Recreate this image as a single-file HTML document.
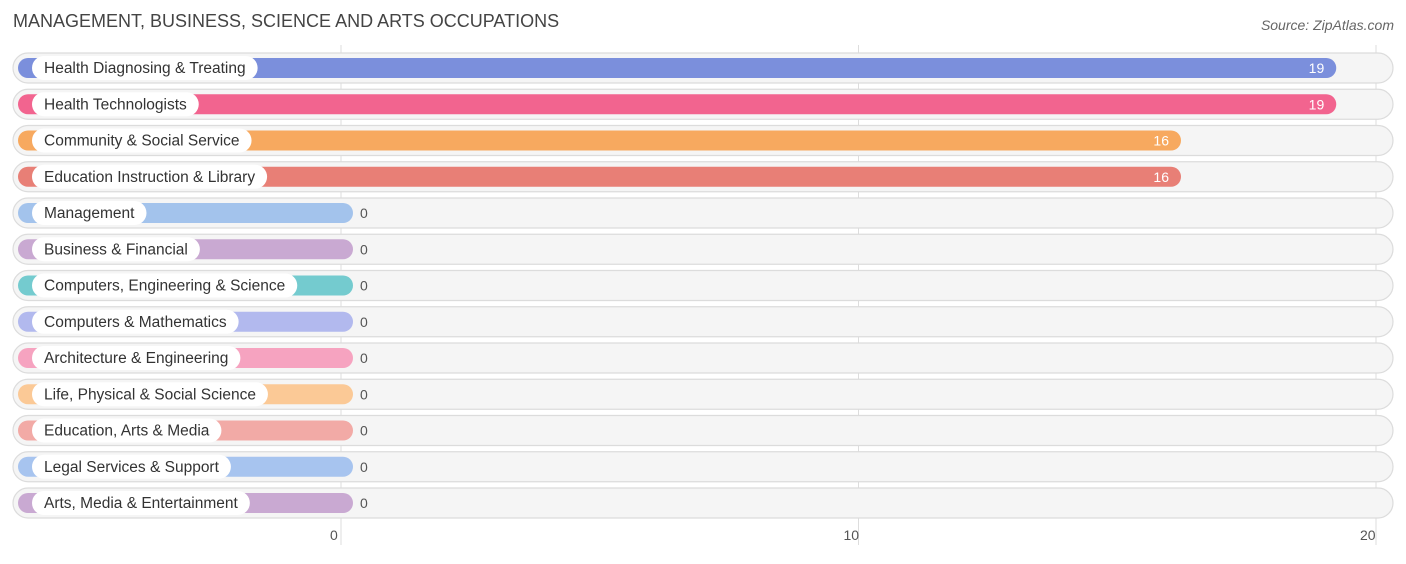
<!DOCTYPE html>
<html><head><meta charset="utf-8"><style>
body{margin:0;background:#fff;font-family:"Liberation Sans",sans-serif}
</style></head><body>
<svg id="c" width="1406" height="559" xmlns="http://www.w3.org/2000/svg">
<text x="13" y="27" font-size="18" fill="#444">MANAGEMENT, BUSINESS, SCIENCE AND ARTS OCCUPATIONS</text>
<text x="1394" y="30" font-size="14" fill="#666" font-style="italic" text-anchor="end">Source: ZipAtlas.com</text>
<g id="grid"></g><g id="rows"></g><g id="ticks"></g>
</svg>
<script>
const categories=["Health Diagnosing & Treating","Health Technologists","Community & Social Service","Education Instruction & Library","Management","Business & Financial","Computers, Engineering & Science","Computers & Mathematics","Architecture & Engineering","Life, Physical & Social Science","Education, Arts & Media","Legal Services & Support","Arts, Media & Entertainment"];
const values=[19,19,16,16,0,0,0,0,0,0,0,0,0];
const tickValues=[0,10,20];
const colors=["#7b8fdc","#f2648f","#f7a95f","#e87f76","#a3c3ec","#c9a9d2","#74cbcf","#b2b9ee","#f6a3c0","#fbc996","#f2aaa6","#a7c4ef","#c9a9d2"];
const NS="http://www.w3.org/2000/svg";
const x=v=>341+v*51.75;
const rowY=i=>68+i*36.25;
function mk(t,a,p){const e=document.createElementNS(NS,t);for(const k in a)e.setAttribute(k,a[k]);p.appendChild(e);return e;}
const grid=document.getElementById('grid'),rows=document.getElementById('rows'),ticks=document.getElementById('ticks');
tickValues.forEach(t=>{
  const l=mk('line',{x1:x(t),x2:x(t),y1:45,y2:545,stroke:'#ddd','stroke-width':1},grid);
  
  
  const tx=mk('text',{x:x(t)-(t===0?11:t===20?16:15),y:540,'font-size':14,fill:'#555'},ticks);
  tx.textContent=t;
  
  
});
categories.forEach((c,i)=>{
  const cy=rowY(i);
  const g=mk('g',{},rows);
  
  
  const bg=mk('rect',{x:13,y:cy-15,width:1380,height:30,rx:15,fill:'#f5f5f5',stroke:'#dcdcdc','stroke-width':1.2},g);
  
  
  const end=x(values[i])+12;
  const b=mk('rect',{x:18,y:cy-10,width:end-18,height:20,rx:10,fill:colors[i]},g);
  
  
  const lbl=mk('text',{x:44,y:cy+5,'font-size':15.5,fill:'#333'},g);
  lbl.textContent=c;
  const w=lbl.getComputedTextLength();
  const pill=mk('rect',{x:32,y:cy-12,width:w+24,height:24,rx:12,fill:'#fff'},g);
  g.insertBefore(pill,lbl);
  
  
  
  
  const v=mk('text',{'font-size':14,y:cy+5},g);
  v.textContent=values[i];
  if(values[i]>0){v.setAttribute('x',end-12);v.setAttribute('text-anchor','end');v.setAttribute('fill','#fff');}
  else{v.setAttribute('x',end+7);v.setAttribute('fill','#555');}
  
  
});
</script>
</body></html>
